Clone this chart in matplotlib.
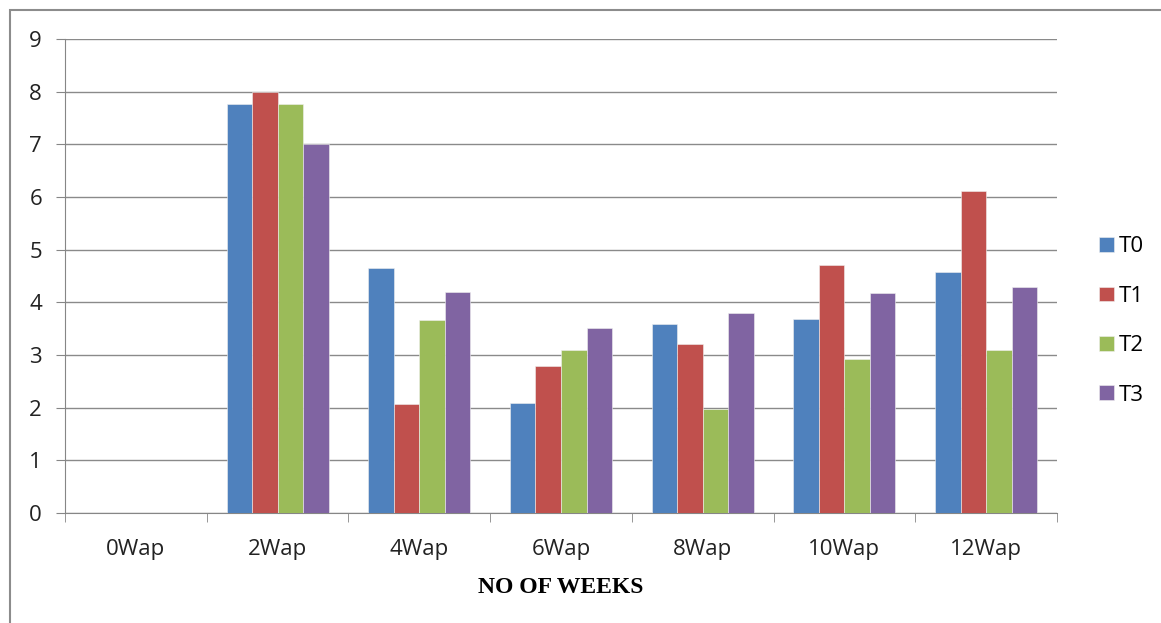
import numpy as np
import matplotlib.pyplot as plt
from matplotlib.patches import Rectangle

weeks = ['0Wap', '2Wap', '4Wap', '6Wap', '8Wap', '10Wap', '12Wap']
t0 = [0, 7.77, 4.65, 2.09, 3.58, 3.68, 4.57]
t1 = [0, 8.0, 2.06, 2.80, 3.21, 4.70, 6.11]
t2 = [0, 7.77, 3.66, 3.09, 1.97, 2.92, 3.09]
t3 = [0, 7.0, 4.19, 3.51, 3.80, 4.18, 4.30]
series = ['T0', 'T1', 'T2', 'T3']
colors = ['#4F81BD', '#C0504D', '#9BBB59', '#8064A2']

fig = plt.figure(figsize=(11.61, 6.23), dpi=100)
ax = fig.add_axes([0.056, 0.1766, 0.8544, 0.7608])

# outer chart border
fig.patches.append(Rectangle((10 / 1161, -0.05), 1.2, 1 - 10 / 623 + 0.05,
                             transform=fig.transFigure, fill=False,
                             edgecolor='#8c8c8c', linewidth=1.5))

x = np.arange(len(weeks))
w = 0.72 / 4
for i, (vals, name) in enumerate(zip([t0, t1, t2, t3], series)):
    ax.bar(x + (i - 1.5) * w, vals, width=w, color=colors[i], label=name,
           edgecolor='#f0f0f0', linewidth=0.4, zorder=3)

ax.set_xlim(-0.5, len(weeks) - 0.5)
ax.set_ylim(0, 9)
ax.set_yticks(range(10))
ax.set_xticks(x)
ax.set_xticklabels(weeks)
ax.set_xticks(np.arange(-0.5, len(weeks)), minor=True)
ax.tick_params(axis='x', which='major', length=0, pad=19, labelsize=16)
ax.tick_params(axis='x', which='minor', length=6.5, color='#868686', direction='out')
ax.tick_params(axis='y', length=6.5, color='#868686', pad=10, labelsize=16)
for lab in ax.get_xticklabels() + ax.get_yticklabels():
    lab.set_fontfamily('Open Sans')
    lab.set_color('#222222')

ax.grid(axis='y', color='#8a8a8a', linewidth=1, zorder=0)
for s in ['top', 'right']:
    ax.spines[s].set_visible(False)
for s in ['left', 'bottom']:
    ax.spines[s].set_color('#868686')

ax.set_xlabel('NO OF WEEKS', fontfamily='Liberation Serif', fontweight='bold',
              fontsize=17, labelpad=12)

leg = ax.legend(loc='center left', bbox_to_anchor=(1.0423, 0.405), frameon=False,
                prop={'family': 'Open Sans', 'size': 16}, handlelength=0.68,
                handleheight=0.65, handletextpad=0.22, labelspacing=1.28,
                borderpad=0, borderaxespad=0)

plt.savefig('out.png', dpi=100)
